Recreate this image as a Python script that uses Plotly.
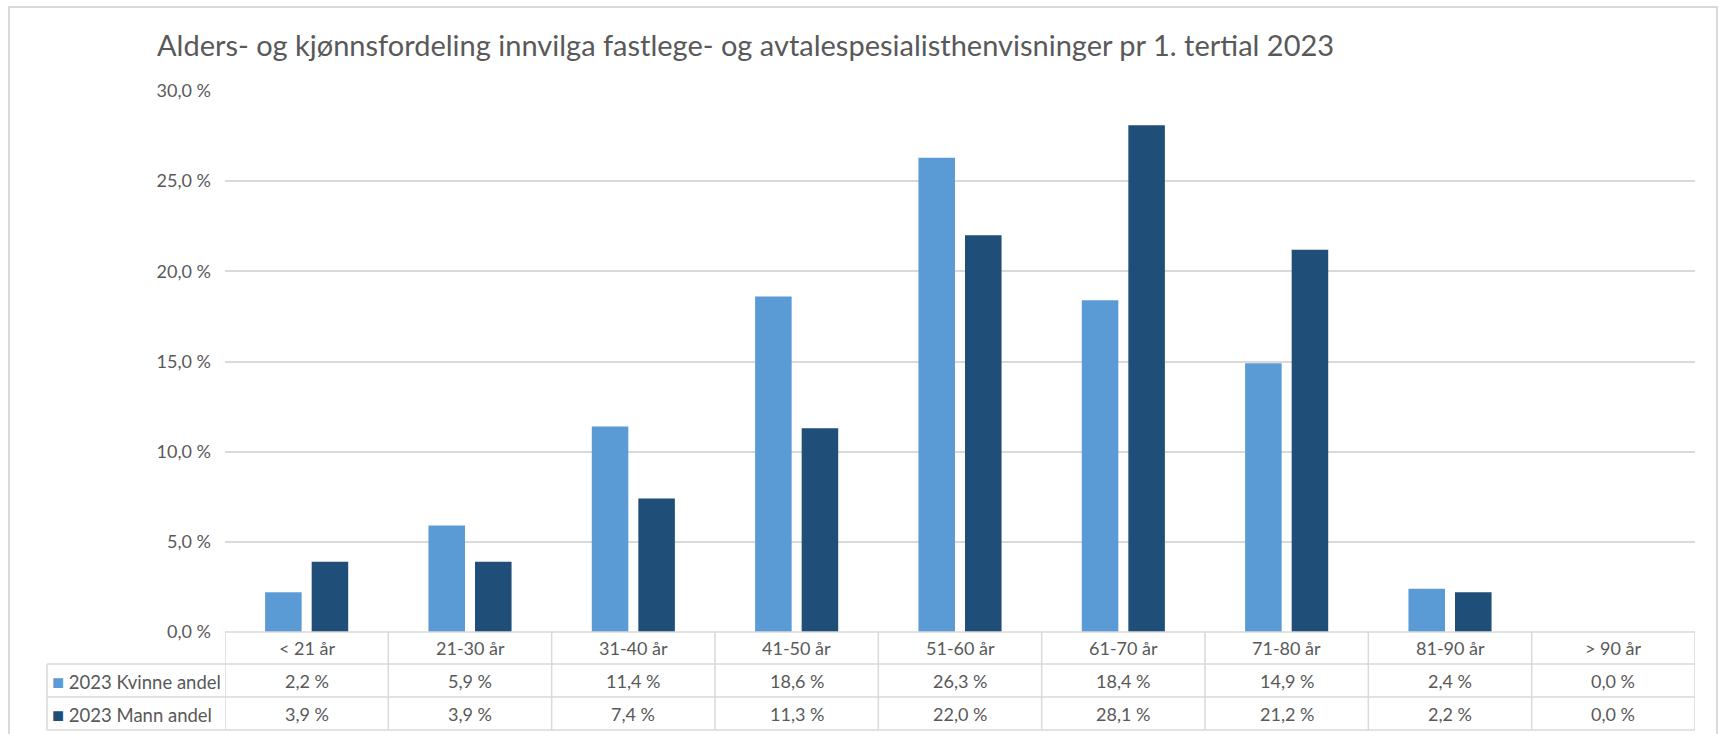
import plotly.graph_objects as go

categories = ["< 21 år", "21-30 år", "31-40 år", "41-50 år", "51-60 år",
              "61-70 år", "71-80 år", "81-90 år", "> 90 år"]
kvinne = [2.2, 5.9, 11.4, 18.6, 26.3, 18.4, 14.9, 2.4, 0.0]
mann = [3.9, 3.9, 7.4, 11.3, 22.0, 28.1, 21.2, 2.2, 0.0]
series_names = ["2023 Kvinne andel", "2023 Mann andel"]
y_tickvals = [0, 5, 10, 15, 20, 25, 30]
y_ticktext = ["0,0 %", "5,0 %", "10,0 %", "15,0 %", "20,0 %", "25,0 %", "30,0 %"]
title_text = "Alders- og kjønnsfordeling innvilga fastlege- og avtalespesialisthenvisninger pr 1. tertial 2023"

C_K = "#5B9BD5"
C_M = "#1F4E79"
TXT = "#595959"
GRID = "#D9D9D9"
FONT = "Lato"
FS = 18

W, H = 1721, 734
L, R = 225, 1695          # plot area pixel edges
T, B = 91, 632            # 30% line, 0% line

def px_x(p):
    return (p - L) / (R - L)

def px_y(p):
    return (B - p) / (B - T)

def fmt(v):
    return f"{v:.1f}".replace(".", ",") + " %"

fig = go.Figure()
fig.add_trace(go.Bar(x=categories, y=kvinne, name=series_names[0],
                     marker=dict(color=C_K, line=dict(width=0))))
fig.add_trace(go.Bar(x=categories, y=mann, name=series_names[1],
                     marker=dict(color=C_M, line=dict(width=0))))

shapes = []
# outer chart border
shapes.append(dict(type="rect", xref="paper", yref="paper",
                   x0=px_x(9), x1=px_x(1717), y0=px_y(760), y1=px_y(7),
                   line=dict(color=GRID, width=2), layer="below"))
# table horizontal lines
row_lines = [664, 697, 730]
for yy in row_lines:
    shapes.append(dict(type="line", xref="paper", yref="paper",
                       x0=px_x(47), x1=1, y0=px_y(yy), y1=px_y(yy),
                       line=dict(color=GRID, width=1.5)))
# axis line (top of header)
shapes.append(dict(type="line", xref="paper", yref="paper",
                   x0=0, x1=1, y0=0, y1=0, line=dict(color=GRID, width=1.5)))
# vertical category separators
n = len(categories)
for i in range(n + 1):
    shapes.append(dict(type="line", xref="x", yref="paper",
                       x0=i - 0.5, x1=i - 0.5, y0=0, y1=px_y(730),
                       line=dict(color=GRID, width=1.5)))
# left edge of the series-label column
shapes.append(dict(type="line", xref="paper", yref="paper",
                   x0=px_x(47), x1=px_x(47), y0=px_y(664), y1=px_y(730),
                   line=dict(color=GRID, width=1.5)))

annotations = []
row_centers = [681, 714]
header_center = 648
for i, c in enumerate(categories):
    annotations.append(dict(x=c, xref="x", y=px_y(header_center), yref="paper",
                            text=c, showarrow=False, xanchor="center", yanchor="middle",
                            font=dict(family=FONT, size=FS, color=TXT)))
for vals, yc in zip([kvinne, mann], row_centers):
    for c, v in zip(categories, vals):
        annotations.append(dict(x=c, xref="x", y=px_y(yc), yref="paper",
                                text=fmt(v), showarrow=False, xanchor="center", yanchor="middle",
                                font=dict(family=FONT, size=FS, color=TXT)))
for name, col, yc in zip(series_names, [C_K, C_M], row_centers):
    annotations.append(dict(x=px_x(50), xref="paper", y=px_y(yc), yref="paper",
                            text=f"<span style='color:{col};font-size:20px'>■</span> {name}",
                            showarrow=False, xanchor="left", yanchor="middle",
                            font=dict(family=FONT, size=18.5, color=TXT)))

fig.update_layout(
    width=W, height=H,
    margin=dict(l=L, r=W - R, t=T, b=H - B, pad=0),
    paper_bgcolor="white", plot_bgcolor="white",
    title=dict(text=title_text, x=157 / W, xanchor="left", xref="container",
               y=1 - 46 / H, yanchor="middle", yref="container",
               font=dict(family=FONT, size=29, color=TXT)),
    showlegend=False,
    barmode="group", bargap=0.43, bargroupgap=0.215,
    xaxis=dict(showticklabels=False, showline=False, showgrid=False, zeroline=False,
               ticks="", range=[-0.5, n - 0.5]),
    yaxis=dict(range=[0, 30], tickvals=y_tickvals, ticktext=y_ticktext,
               showgrid=True, gridcolor=GRID, gridwidth=1.5, zeroline=False,
               showline=False, ticks="", ticklabelstandoff=13,
               tickfont=dict(family=FONT, size=FS, color=TXT)),
    shapes=shapes, annotations=annotations,
    font=dict(family=FONT, color=TXT),
)

fig.write_html("out.html", config={"displayModeBar": False},
               post_script="document.body.style.margin='0';document.body.style.overflow='hidden';")
